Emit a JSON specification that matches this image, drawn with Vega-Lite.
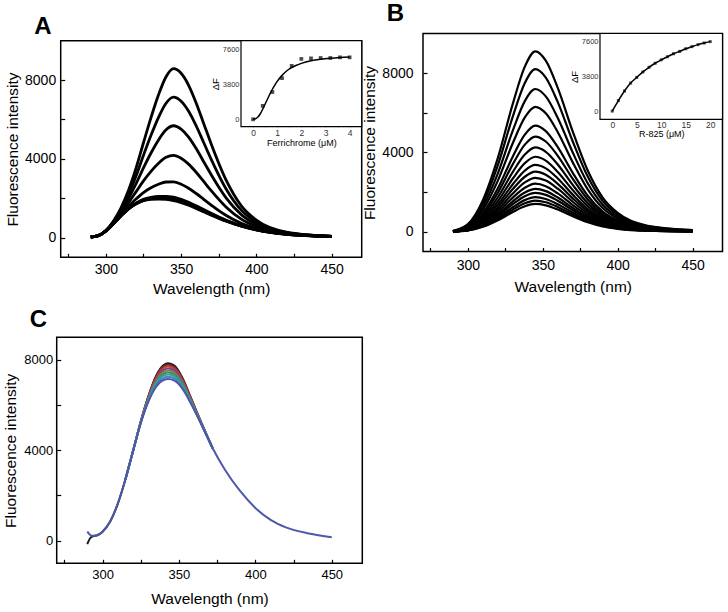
{
"$schema": "https://vega.github.io/schema/vega-lite/v6.json",
"width": 728, "height": 612, "padding": 0, "autosize": "none",
"config": {"view": {"stroke": null}, "font": "Liberation Sans",
 "axis": {"grid": false, "domain": false, "tickColor": "black", "tickWidth": 1.2, "labelColor": "black", "titleColor": "black", "titleFontWeight": "normal", "labelFont": "Liberation Sans", "titleFont": "Liberation Sans"}},
"datasets": {
"A": [
{"w":290,"k":1,"v":30},{"w":295,"k":1,"v":100},{"w":300,"k":1,"v":364},{"w":305,"k":1,"v":834},{"w":310,"k":1,"v":1502},{"w":315,"k":1,"v":2388},{"w":320,"k":1,"v":3509},{"w":325,"k":1,"v":4818},{"w":330,"k":1,"v":6094},{"w":335,"k":1,"v":7253},{"w":340,"k":1,"v":8171},{"w":345,"k":1,"v":8580},{"w":350,"k":1,"v":8346},{"w":355,"k":1,"v":7737},{"w":360,"k":1,"v":6840},{"w":365,"k":1,"v":5799},{"w":370,"k":1,"v":4758},{"w":380,"k":1,"v":2907},{"w":390,"k":1,"v":1619},{"w":400,"k":1,"v":893},{"w":420,"k":1,"v":284},{"w":450,"k":1,"v":68},
{"w":290,"k":2,"v":30},{"w":295,"k":2,"v":100},{"w":300,"k":2,"v":356},{"w":305,"k":2,"v":805},{"w":310,"k":2,"v":1415},{"w":315,"k":2,"v":2185},{"w":320,"k":2,"v":3118},{"w":325,"k":2,"v":4180},{"w":330,"k":2,"v":5195},{"w":335,"k":2,"v":6108},{"w":340,"k":2,"v":6823},{"w":345,"k":2,"v":7130},{"w":350,"k":2,"v":6925},{"w":355,"k":2,"v":6418},{"w":360,"k":2,"v":5680},{"w":365,"k":2,"v":4828},{"w":370,"k":2,"v":3975},{"w":380,"k":2,"v":2458},{"w":390,"k":2,"v":1394},{"w":400,"k":2,"v":784},{"w":420,"k":2,"v":259},{"w":450,"k":2,"v":66},
{"w":290,"k":3,"v":30},{"w":295,"k":3,"v":100},{"w":300,"k":3,"v":349},{"w":305,"k":3,"v":776},{"w":310,"k":3,"v":1328},{"w":315,"k":3,"v":1982},{"w":320,"k":3,"v":2726},{"w":325,"k":3,"v":3542},{"w":330,"k":3,"v":4296},{"w":335,"k":3,"v":4962},{"w":340,"k":3,"v":5474},{"w":345,"k":3,"v":5680},{"w":350,"k":3,"v":5504},{"w":355,"k":3,"v":5098},{"w":360,"k":3,"v":4520},{"w":365,"k":3,"v":3856},{"w":370,"k":3,"v":3192},{"w":380,"k":3,"v":2008},{"w":390,"k":3,"v":1169},{"w":400,"k":3,"v":675},{"w":420,"k":3,"v":235},{"w":450,"k":3,"v":63},
{"w":290,"k":4,"v":30},{"w":295,"k":4,"v":100},{"w":300,"k":4,"v":342},{"w":305,"k":4,"v":746},{"w":310,"k":4,"v":1238},{"w":315,"k":4,"v":1772},{"w":320,"k":4,"v":2321},{"w":325,"k":4,"v":2882},{"w":330,"k":4,"v":3366},{"w":335,"k":4,"v":3777},{"w":340,"k":4,"v":4079},{"w":345,"k":4,"v":4180},{"w":350,"k":4,"v":4034},{"w":355,"k":4,"v":3733},{"w":360,"k":4,"v":3320},{"w":365,"k":4,"v":2851},{"w":370,"k":4,"v":2382},{"w":380,"k":4,"v":1543},{"w":390,"k":4,"v":937},{"w":400,"k":4,"v":563},{"w":420,"k":4,"v":209},{"w":450,"k":4,"v":60},
{"w":290,"k":5,"v":30},{"w":295,"k":5,"v":100},{"w":300,"k":5,"v":335},{"w":305,"k":5,"v":719},{"w":310,"k":5,"v":1157},{"w":315,"k":5,"v":1583},{"w":320,"k":5,"v":1957},{"w":325,"k":5,"v":2288},{"w":330,"k":5,"v":2529},{"w":335,"k":5,"v":2711},{"w":340,"k":5,"v":2824},{"w":345,"k":5,"v":2830},{"w":350,"k":5,"v":2711},{"w":355,"k":5,"v":2505},{"w":360,"k":5,"v":2240},{"w":365,"k":5,"v":1947},{"w":370,"k":5,"v":1653},{"w":380,"k":5,"v":1125},{"w":390,"k":5,"v":727},{"w":400,"k":5,"v":461},{"w":420,"k":5,"v":186},{"w":450,"k":5,"v":57},
{"w":290,"k":6,"v":30},{"w":295,"k":6,"v":100},{"w":300,"k":6,"v":331},{"w":305,"k":6,"v":703},{"w":310,"k":6,"v":1110},{"w":315,"k":6,"v":1474},{"w":320,"k":6,"v":1746},{"w":325,"k":6,"v":1945},{"w":330,"k":6,"v":2045},{"w":335,"k":6,"v":2094},{"w":340,"k":6,"v":2098},{"w":345,"k":6,"v":2050},{"w":350,"k":6,"v":1947},{"w":355,"k":6,"v":1795},{"w":360,"k":6,"v":1616},{"w":365,"k":6,"v":1424},{"w":370,"k":6,"v":1232},{"w":380,"k":6,"v":883},{"w":390,"k":6,"v":606},{"w":400,"k":6,"v":403},{"w":420,"k":6,"v":173},{"w":450,"k":6,"v":55},
{"w":290,"k":7,"v":30},{"w":295,"k":7,"v":100},{"w":300,"k":7,"v":331},{"w":305,"k":7,"v":702},{"w":310,"k":7,"v":1107},{"w":315,"k":7,"v":1465},{"w":320,"k":7,"v":1730},{"w":325,"k":7,"v":1918},{"w":330,"k":7,"v":2008},{"w":335,"k":7,"v":2047},{"w":340,"k":7,"v":2042},{"w":345,"k":7,"v":1990},{"w":350,"k":7,"v":1888},{"w":355,"k":7,"v":1740},{"w":360,"k":7,"v":1568},{"w":365,"k":7,"v":1384},{"w":370,"k":7,"v":1199},{"w":380,"k":7,"v":864},{"w":390,"k":7,"v":597},{"w":400,"k":7,"v":398},{"w":420,"k":7,"v":172},{"w":450,"k":7,"v":55},
{"w":290,"k":8,"v":30},{"w":295,"k":8,"v":100},{"w":300,"k":8,"v":330},{"w":305,"k":8,"v":701},{"w":310,"k":8,"v":1103},{"w":315,"k":8,"v":1458},{"w":320,"k":8,"v":1715},{"w":325,"k":8,"v":1894},{"w":330,"k":8,"v":1974},{"w":335,"k":8,"v":2003},{"w":340,"k":8,"v":1991},{"w":345,"k":8,"v":1935},{"w":350,"k":8,"v":1834},{"w":355,"k":8,"v":1690},{"w":360,"k":8,"v":1524},{"w":365,"k":8,"v":1347},{"w":370,"k":8,"v":1170},{"w":380,"k":8,"v":847},{"w":390,"k":8,"v":589},{"w":400,"k":8,"v":394},{"w":420,"k":8,"v":171},{"w":450,"k":8,"v":55},
{"w":290,"k":9,"v":30},{"w":295,"k":9,"v":100},{"w":300,"k":9,"v":330},{"w":305,"k":9,"v":700},{"w":310,"k":9,"v":1100},{"w":315,"k":9,"v":1450},{"w":320,"k":9,"v":1700},{"w":325,"k":9,"v":1870},{"w":330,"k":9,"v":1940},{"w":335,"k":9,"v":1960},{"w":340,"k":9,"v":1940},{"w":345,"k":9,"v":1880},{"w":350,"k":9,"v":1780},{"w":355,"k":9,"v":1640},{"w":360,"k":9,"v":1480},{"w":365,"k":9,"v":1310},{"w":370,"k":9,"v":1140},{"w":380,"k":9,"v":830},{"w":390,"k":9,"v":580},{"w":400,"k":9,"v":390},{"w":420,"k":9,"v":170},{"w":450,"k":9,"v":55}
],
"Apts": [{"c":0,"f":0},{"c":0.4,"f":1450},{"c":0.8,"f":2950},{"c":1.2,"f":4450},{"c":1.6,"f":5780},{"c":2.0,"f":6530},{"c":2.4,"f":6590},{"c":2.8,"f":6630},{"c":3.2,"f":6630},{"c":3.6,"f":6700},{"c":4.0,"f":6700}],
"Afit": [{"c":0,"f":0},{"c":0.1,"f":60},{"c":0.2,"f":250},{"c":0.3,"f":600},{"c":0.4,"f":1100},{"c":0.5,"f":1650},{"c":0.6,"f":2200},{"c":0.7,"f":2750},{"c":0.8,"f":3250},{"c":0.9,"f":3700},{"c":1.0,"f":4100},{"c":1.2,"f":4750},{"c":1.4,"f":5250},{"c":1.6,"f":5600},{"c":1.8,"f":5850},{"c":2.0,"f":6050},{"c":2.4,"f":6330},{"c":2.8,"f":6500},{"c":3.2,"f":6610},{"c":3.6,"f":6690},{"c":4.0,"f":6750}],
"B": [
{"w":290,"k":1,"v":36},{"w":300,"k":1,"v":382},{"w":310,"k":1,"v":1593},{"w":320,"k":1,"v":3722},{"w":330,"k":1,"v":6461},{"w":338,"k":1,"v":8327},{"w":345,"k":1,"v":9100},{"w":352,"k":1,"v":8627},{"w":360,"k":1,"v":7253},{"w":370,"k":1,"v":5051},{"w":380,"k":1,"v":3085},{"w":390,"k":1,"v":1720},{"w":400,"k":1,"v":946},{"w":420,"k":1,"v":300},{"w":450,"k":1,"v":82},
{"w":290,"k":2,"v":33},{"w":300,"k":2,"v":344},{"w":310,"k":2,"v":1435},{"w":320,"k":2,"v":3354},{"w":330,"k":2,"v":5822},{"w":338,"k":2,"v":7503},{"w":345,"k":2,"v":8200},{"w":352,"k":2,"v":7774},{"w":360,"k":2,"v":6535},{"w":370,"k":2,"v":4551},{"w":380,"k":2,"v":2780},{"w":390,"k":2,"v":1550},{"w":400,"k":2,"v":853},{"w":420,"k":2,"v":271},{"w":450,"k":2,"v":74},
{"w":290,"k":3,"v":29},{"w":300,"k":3,"v":302},{"w":310,"k":3,"v":1260},{"w":320,"k":3,"v":2945},{"w":330,"k":3,"v":5112},{"w":338,"k":3,"v":6588},{"w":345,"k":3,"v":7200},{"w":352,"k":3,"v":6826},{"w":360,"k":3,"v":5738},{"w":370,"k":3,"v":3996},{"w":380,"k":3,"v":2441},{"w":390,"k":3,"v":1361},{"w":400,"k":3,"v":749},{"w":420,"k":3,"v":238},{"w":450,"k":3,"v":65},
{"w":290,"k":4,"v":25},{"w":300,"k":4,"v":265},{"w":310,"k":4,"v":1103},{"w":320,"k":4,"v":2577},{"w":330,"k":4,"v":4473},{"w":338,"k":4,"v":5765},{"w":345,"k":4,"v":6300},{"w":352,"k":4,"v":5972},{"w":360,"k":4,"v":5021},{"w":370,"k":4,"v":3497},{"w":380,"k":4,"v":2136},{"w":390,"k":4,"v":1191},{"w":400,"k":4,"v":655},{"w":420,"k":4,"v":208},{"w":450,"k":4,"v":57},
{"w":290,"k":5,"v":21},{"w":300,"k":5,"v":225},{"w":310,"k":5,"v":936},{"w":320,"k":5,"v":2188},{"w":330,"k":5,"v":3799},{"w":338,"k":5,"v":4895},{"w":345,"k":5,"v":5350},{"w":352,"k":5,"v":5072},{"w":360,"k":5,"v":4264},{"w":370,"k":5,"v":2969},{"w":380,"k":5,"v":1814},{"w":390,"k":5,"v":1011},{"w":400,"k":5,"v":556},{"w":420,"k":5,"v":177},{"w":450,"k":5,"v":48},
{"w":290,"k":6,"v":19},{"w":300,"k":6,"v":202},{"w":310,"k":6,"v":840},{"w":320,"k":6,"v":1963},{"w":330,"k":6,"v":3408},{"w":338,"k":6,"v":4392},{"w":345,"k":6,"v":4800},{"w":352,"k":6,"v":4550},{"w":360,"k":6,"v":3826},{"w":370,"k":6,"v":2664},{"w":380,"k":6,"v":1627},{"w":390,"k":6,"v":907},{"w":400,"k":6,"v":499},{"w":420,"k":6,"v":158},{"w":450,"k":6,"v":43},
{"w":290,"k":7,"v":17},{"w":300,"k":7,"v":179},{"w":310,"k":7,"v":744},{"w":320,"k":7,"v":1738},{"w":330,"k":7,"v":3018},{"w":338,"k":7,"v":3889},{"w":345,"k":7,"v":4250},{"w":352,"k":7,"v":4029},{"w":360,"k":7,"v":3387},{"w":370,"k":7,"v":2359},{"w":380,"k":7,"v":1441},{"w":390,"k":7,"v":803},{"w":400,"k":7,"v":442},{"w":420,"k":7,"v":140},{"w":450,"k":7,"v":38},
{"w":290,"k":8,"v":15},{"w":300,"k":8,"v":159},{"w":310,"k":8,"v":662},{"w":320,"k":8,"v":1546},{"w":330,"k":8,"v":2684},{"w":338,"k":8,"v":3459},{"w":345,"k":8,"v":3780},{"w":352,"k":8,"v":3583},{"w":360,"k":8,"v":3013},{"w":370,"k":8,"v":2098},{"w":380,"k":8,"v":1281},{"w":390,"k":8,"v":714},{"w":400,"k":8,"v":393},{"w":420,"k":8,"v":125},{"w":450,"k":8,"v":34},
{"w":290,"k":9,"v":13},{"w":300,"k":9,"v":142},{"w":310,"k":9,"v":590},{"w":320,"k":9,"v":1378},{"w":330,"k":9,"v":2393},{"w":338,"k":9,"v":3084},{"w":345,"k":9,"v":3370},{"w":352,"k":9,"v":3195},{"w":360,"k":9,"v":2686},{"w":370,"k":9,"v":1870},{"w":380,"k":9,"v":1142},{"w":390,"k":9,"v":637},{"w":400,"k":9,"v":350},{"w":420,"k":9,"v":111},{"w":450,"k":9,"v":30},
{"w":290,"k":10,"v":12},{"w":300,"k":10,"v":127},{"w":310,"k":10,"v":530},{"w":320,"k":10,"v":1239},{"w":330,"k":10,"v":2151},{"w":338,"k":10,"v":2772},{"w":345,"k":10,"v":3030},{"w":352,"k":10,"v":2872},{"w":360,"k":10,"v":2415},{"w":370,"k":10,"v":1682},{"w":380,"k":10,"v":1027},{"w":390,"k":10,"v":573},{"w":400,"k":10,"v":315},{"w":420,"k":10,"v":100},{"w":450,"k":10,"v":27},
{"w":290,"k":11,"v":11},{"w":300,"k":11,"v":114},{"w":310,"k":11,"v":476},{"w":320,"k":11,"v":1112},{"w":330,"k":11,"v":1931},{"w":338,"k":11,"v":2489},{"w":345,"k":11,"v":2720},{"w":352,"k":11,"v":2579},{"w":360,"k":11,"v":2168},{"w":370,"k":11,"v":1510},{"w":380,"k":11,"v":922},{"w":390,"k":11,"v":514},{"w":400,"k":11,"v":283},{"w":420,"k":11,"v":90},{"w":450,"k":11,"v":24},
{"w":290,"k":12,"v":10},{"w":300,"k":12,"v":102},{"w":310,"k":12,"v":424},{"w":320,"k":12,"v":990},{"w":330,"k":12,"v":1718},{"w":338,"k":12,"v":2214},{"w":345,"k":12,"v":2420},{"w":352,"k":12,"v":2294},{"w":360,"k":12,"v":1929},{"w":370,"k":12,"v":1343},{"w":380,"k":12,"v":820},{"w":390,"k":12,"v":457},{"w":400,"k":12,"v":252},{"w":420,"k":12,"v":80},{"w":450,"k":12,"v":22},
{"w":290,"k":13,"v":9},{"w":300,"k":13,"v":91},{"w":310,"k":13,"v":378},{"w":320,"k":13,"v":883},{"w":330,"k":13,"v":1534},{"w":338,"k":13,"v":1976},{"w":345,"k":13,"v":2160},{"w":352,"k":13,"v":2048},{"w":360,"k":13,"v":1722},{"w":370,"k":13,"v":1199},{"w":380,"k":13,"v":732},{"w":390,"k":13,"v":408},{"w":400,"k":13,"v":225},{"w":420,"k":13,"v":71},{"w":450,"k":13,"v":19},
{"w":290,"k":14,"v":8},{"w":300,"k":14,"v":82},{"w":310,"k":14,"v":343},{"w":320,"k":14,"v":802},{"w":330,"k":14,"v":1392},{"w":338,"k":14,"v":1793},{"w":345,"k":14,"v":1960},{"w":352,"k":14,"v":1858},{"w":360,"k":14,"v":1562},{"w":370,"k":14,"v":1088},{"w":380,"k":14,"v":664},{"w":390,"k":14,"v":370},{"w":400,"k":14,"v":204},{"w":420,"k":14,"v":65},{"w":450,"k":14,"v":18},
{"w":290,"k":15,"v":7},{"w":300,"k":15,"v":73},{"w":310,"k":15,"v":305},{"w":320,"k":15,"v":712},{"w":330,"k":15,"v":1235},{"w":338,"k":15,"v":1592},{"w":345,"k":15,"v":1740},{"w":352,"k":15,"v":1650},{"w":360,"k":15,"v":1387},{"w":370,"k":15,"v":966},{"w":380,"k":15,"v":590},{"w":390,"k":15,"v":329},{"w":400,"k":15,"v":181},{"w":420,"k":15,"v":57},{"w":450,"k":15,"v":16},
{"w":290,"k":16,"v":6},{"w":300,"k":16,"v":66},{"w":310,"k":16,"v":275},{"w":320,"k":16,"v":642},{"w":330,"k":16,"v":1115},{"w":338,"k":16,"v":1437},{"w":345,"k":16,"v":1570},{"w":352,"k":16,"v":1488},{"w":360,"k":16,"v":1251},{"w":370,"k":16,"v":871},{"w":380,"k":16,"v":532},{"w":390,"k":16,"v":297},{"w":400,"k":16,"v":163},{"w":420,"k":16,"v":52},{"w":450,"k":16,"v":14},
{"w":290,"k":17,"v":6},{"w":300,"k":17,"v":59},{"w":310,"k":17,"v":245},{"w":320,"k":17,"v":573},{"w":330,"k":17,"v":994},{"w":338,"k":17,"v":1281},{"w":345,"k":17,"v":1400},{"w":352,"k":17,"v":1327},{"w":360,"k":17,"v":1116},{"w":370,"k":17,"v":777},{"w":380,"k":17,"v":475},{"w":390,"k":17,"v":265},{"w":400,"k":17,"v":146},{"w":420,"k":17,"v":46},{"w":450,"k":17,"v":13}
],
"Bpts": [{"c":0,"f":0},{"c":1.25,"f":1150},{"c":2.5,"f":2200},{"c":3.75,"f":3070},{"c":5,"f":3690},{"c":6.25,"f":4290},{"c":7.5,"f":4800},{"c":8.75,"f":5240},{"c":10,"f":5620},{"c":11.25,"f":5950},{"c":12.5,"f":6280},{"c":13.75,"f":6540},{"c":15,"f":6830},{"c":16.25,"f":7060},{"c":17.5,"f":7280},{"c":18.75,"f":7460},{"c":20,"f":7610}],
"C": [
{"w":290,"k":"c1","v":-150},{"w":292,"k":"c1","v":120},{"w":294,"k":"c1","v":210},{"w":296,"k":"c1","v":230},{"w":300,"k":"c1","v":400},{"w":305,"k":"c1","v":850},{"w":310,"k":"c1","v":1640},{"w":315,"k":"c1","v":2720},{"w":320,"k":"c1","v":3980},{"w":325,"k":"c1","v":5270},{"w":330,"k":"c1","v":6395},{"w":335,"k":"c1","v":7290},{"w":340,"k":"c1","v":7775},{"w":343,"k":"c1","v":7850},{"w":347,"k":"c1","v":7745},{"w":352,"k":"c1","v":7240},{"w":358,"k":"c1","v":6295},{"w":365,"k":"c1","v":5170},{"w":372,"k":"c1","v":4100},
{"w":315,"k":"c2","v":2720},{"w":320,"k":"c2","v":3980},{"w":325,"k":"c2","v":5264},{"w":330,"k":"c2","v":6374},{"w":335,"k":"c2","v":7248},{"w":340,"k":"c2","v":7718},{"w":343,"k":"c2","v":7790},{"w":347,"k":"c2","v":7688},{"w":352,"k":"c2","v":7198},{"w":358,"k":"c2","v":6274},{"w":365,"k":"c2","v":5164},{"w":372,"k":"c2","v":4100},
{"w":315,"k":"c3","v":2720},{"w":320,"k":"c3","v":3980},{"w":325,"k":"c3","v":5256},{"w":330,"k":"c3","v":6346},{"w":335,"k":"c3","v":7192},{"w":340,"k":"c3","v":7642},{"w":343,"k":"c3","v":7710},{"w":347,"k":"c3","v":7612},{"w":352,"k":"c3","v":7142},{"w":358,"k":"c3","v":6246},{"w":365,"k":"c3","v":5156},{"w":372,"k":"c3","v":4100},
{"w":315,"k":"c4","v":2720},{"w":320,"k":"c4","v":3980},{"w":325,"k":"c4","v":5247},{"w":330,"k":"c4","v":6315},{"w":335,"k":"c4","v":7129},{"w":340,"k":"c4","v":7557},{"w":343,"k":"c4","v":7620},{"w":347,"k":"c4","v":7527},{"w":352,"k":"c4","v":7079},{"w":358,"k":"c4","v":6215},{"w":365,"k":"c4","v":5147},{"w":372,"k":"c4","v":4100},
{"w":315,"k":"c5","v":2720},{"w":320,"k":"c5","v":3980},{"w":325,"k":"c5","v":5238},{"w":330,"k":"c5","v":6283},{"w":335,"k":"c5","v":7066},{"w":340,"k":"c5","v":7471},{"w":343,"k":"c5","v":7530},{"w":347,"k":"c5","v":7441},{"w":352,"k":"c5","v":7016},{"w":358,"k":"c5","v":6183},{"w":365,"k":"c5","v":5138},{"w":372,"k":"c5","v":4100},
{"w":315,"k":"c6","v":2720},{"w":320,"k":"c6","v":3980},{"w":325,"k":"c6","v":5229},{"w":330,"k":"c6","v":6252},{"w":335,"k":"c6","v":7003},{"w":340,"k":"c6","v":7386},{"w":343,"k":"c6","v":7440},{"w":347,"k":"c6","v":7356},{"w":352,"k":"c6","v":6953},{"w":358,"k":"c6","v":6152},{"w":365,"k":"c6","v":5129},{"w":372,"k":"c6","v":4100},
{"w":315,"k":"c7","v":2720},{"w":320,"k":"c7","v":3980},{"w":325,"k":"c7","v":5220},{"w":330,"k":"c7","v":6220},{"w":335,"k":"c7","v":6940},{"w":340,"k":"c7","v":7300},{"w":343,"k":"c7","v":7350},{"w":347,"k":"c7","v":7270},{"w":352,"k":"c7","v":6890},{"w":358,"k":"c7","v":6120},{"w":365,"k":"c7","v":5120},{"w":372,"k":"c7","v":4100},
{"w":315,"k":"c8","v":2720},{"w":320,"k":"c8","v":3980},{"w":325,"k":"c8","v":5210},{"w":330,"k":"c8","v":6185},{"w":335,"k":"c8","v":6870},{"w":340,"k":"c8","v":7205},{"w":343,"k":"c8","v":7250},{"w":347,"k":"c8","v":7175},{"w":352,"k":"c8","v":6820},{"w":358,"k":"c8","v":6085},{"w":365,"k":"c8","v":5110},{"w":372,"k":"c8","v":4100}
],
"Cbase": [{"w":290,"v":400},{"w":293,"v":220},{"w":296,"v":230},{"w":300,"v":400},{"w":305,"v":850},{"w":310,"v":1640},{"w":315,"v":2720},{"w":320,"v":3980},{"w":325,"v":5200},{"w":330,"v":6150},{"w":335,"v":6800},{"w":340,"v":7110},{"w":343,"v":7150},{"w":347,"v":7080},{"w":352,"v":6750},{"w":358,"v":6050},{"w":365,"v":5100},{"w":372,"v":4100},{"w":380,"v":3150},{"w":390,"v":2200},{"w":400,"v":1450},{"w":410,"v":920},{"w":420,"v":590},{"w":435,"v":320},{"w":450,"v":150}],
"lblA": [{"t":"A"}], "lblB": [{"t":"B"}], "lblC": [{"t":"C"}], "one": [{"t":""}]
},
"layer": [
{"layer": [
 {"data": {"name": "A"}, "mark": {"type": "line", "interpolate": "monotone", "stroke": "black", "strokeWidth": 2.8},
  "encoding": {
   "x": {"field": "w", "type": "quantitative", "scale": {"domain": [270, 470], "range": [60.7, 361.7], "nice": false, "zero": false},
    "axis": {"orient": "bottom", "offset": -354.7, "values": [275,300,325,350,375,400,425,450], "format": "d", "labelExpr": "datum.value % 50 === 0 ? datum.label : ''", "tickSize": -4, "labelPadding": 9, "labelFontSize": 14, "title": "Wavelength (nm)", "titleFontSize": 15.5, "titlePadding": 5}},
   "y": {"field": "v", "type": "quantitative", "scale": {"domain": [-1000, 10000], "range": [257.3, 40.7], "nice": false, "zero": false},
    "axis": {"orient": "left", "offset": -60.7, "values": [0,2000,4000,6000,8000], "format": "d", "labelExpr": "datum.value % 4000 === 0 ? datum.label : ''", "tickSize": -4, "labelPadding": 9, "labelFontSize": 14, "title": "Fluorescence intensity", "titleFontSize": 15.5, "titlePadding": 4}},
   "detail": {"field": "k", "type": "nominal"}}},
 {"data": {"name": "one"}, "mark": {"type": "rect", "filled": false, "stroke": "black", "strokeWidth": 1.5},
  "encoding": {"x": {"datum": 270, "type": "quantitative"}, "x2": {"datum": 470}, "y": {"datum": -1000, "type": "quantitative"}, "y2": {"datum": 10000}}},
 {"data": {"name": "lblA"}, "mark": {"type": "text", "fontSize": 24, "fontWeight": "bold", "font": "Liberation Sans", "align": "center", "baseline": "alphabetic"},
  "encoding": {"x": {"datum": 258.2, "type": "quantitative"}, "y": {"datum": 10335, "type": "quantitative"}, "text": {"field": "t"}}}
]},
{"layer": [
 {"data": {"name": "one"}, "mark": {"type": "rect", "fill": "white", "stroke": "black", "strokeWidth": 1.2},
  "encoding": {"x": {"datum": -0.5, "type": "quantitative", "scale": {"domain": [-0.5, 4.5], "range": [241, 361.7], "nice": false, "zero": false},
    "axis": {"orient": "bottom", "offset": -485.3, "values": [0,0.5,1,1.5,2,2.5,3,3.5,4], "labelExpr": "datum.value % 1 === 0 ? format(datum.value, 'd') : ''", "tickSize": -2.5, "labelPadding": 4.5, "labelFontSize": 8.5, "labelColor": "#333", "title": "Ferrichrome (μM)", "titleFontSize": 9, "titlePadding": 1}},
   "x2": {"datum": 4.5},
   "y": {"datum": -800, "type": "quantitative", "scale": {"domain": [-800, 8500], "range": [126.7, 40.7], "nice": false, "zero": false},
    "axis": {"orient": "left", "offset": -241, "values": [0,1900,3800,5700,7600], "labelExpr": "datum.value % 3800 === 0 ? format(datum.value, 'd') : ''", "tickSize": -2.5, "labelPadding": 4.5, "labelFontSize": 7.5, "labelColor": "#333", "title": "ΔF", "titleFontSize": 9.5, "titlePadding": 2}},
   "y2": {"datum": 8500}}},
 {"data": {"name": "Afit"}, "mark": {"type": "line", "interpolate": "monotone", "stroke": "black", "strokeWidth": 1.5},
  "encoding": {"x": {"field": "c", "type": "quantitative"}, "y": {"field": "f", "type": "quantitative"}}},
 {"data": {"name": "Apts"}, "mark": {"type": "point", "shape": "square", "filled": true, "color": "black", "size": 14},
  "encoding": {"x": {"field": "c", "type": "quantitative"}, "y": {"field": "f", "type": "quantitative"}}}
]},
{"layer": [
 {"data": {"name": "B"}, "mark": {"type": "line", "interpolate": "monotone", "stroke": "black", "strokeWidth": 2.2},
  "encoding": {
   "x": {"field": "w", "type": "quantitative", "scale": {"domain": [270, 470], "range": [423, 722.5], "nice": false, "zero": false},
    "axis": {"orient": "bottom", "offset": -360.5, "values": [275,300,325,350,375,400,425,450], "format": "d", "labelExpr": "datum.value % 50 === 0 ? datum.label : ''", "tickSize": -4, "labelPadding": 11, "labelFontSize": 14, "title": "Wavelength (nm)", "titleFontSize": 15.5, "titlePadding": 7}},
   "y": {"field": "v", "type": "quantitative", "scale": {"domain": [-1000, 10000], "range": [251.5, 33.5], "nice": false, "zero": false},
    "axis": {"orient": "left", "offset": -423, "values": [0,2000,4000,6000,8000], "format": "d", "labelExpr": "datum.value % 4000 === 0 ? datum.label : ''", "tickSize": -4, "labelPadding": 14, "labelFontSize": 14, "title": "Fluorescence intensity", "titleFontSize": 15.5, "titlePadding": 4}},
   "detail": {"field": "k", "type": "nominal"}}},
 {"data": {"name": "one"}, "mark": {"type": "rect", "filled": false, "stroke": "black", "strokeWidth": 1.5},
  "encoding": {"x": {"datum": 270, "type": "quantitative"}, "x2": {"datum": 470}, "y": {"datum": -1000, "type": "quantitative"}, "y2": {"datum": 10000}}},
 {"data": {"name": "lblB"}, "mark": {"type": "text", "fontSize": 24, "fontWeight": "bold", "font": "Liberation Sans", "align": "center", "baseline": "alphabetic"},
  "encoding": {"x": {"datum": 251.6, "type": "quantitative"}, "y": {"datum": 10626, "type": "quantitative"}, "text": {"field": "t"}}}
]},
{"layer": [
 {"data": {"name": "one"}, "mark": {"type": "rect", "fill": "white", "stroke": "black", "strokeWidth": 1.2},
  "encoding": {"x": {"datum": -2.5, "type": "quantitative", "scale": {"domain": [-2.5, 22.5], "range": [600, 722.5], "nice": false, "zero": false},
    "axis": {"orient": "bottom", "offset": -492.7, "values": [0,2.5,5,7.5,10,12.5,15,17.5,20], "labelExpr": "datum.value % 5 === 0 ? format(datum.value, 'd') : ''", "tickSize": -2.5, "labelPadding": 4, "labelFontSize": 8.5, "labelColor": "#333", "title": "R-825 (μM)", "titleFontSize": 9, "titlePadding": 0}},
   "x2": {"datum": 22.5},
   "y": {"datum": -900, "type": "quantitative", "scale": {"domain": [-900, 8500], "range": [119.3, 33.5], "nice": false, "zero": false},
    "axis": {"orient": "left", "offset": -600, "values": [0,1900,3800,5700,7600], "labelExpr": "datum.value % 3800 === 0 ? format(datum.value, 'd') : ''", "tickSize": -2.5, "labelPadding": 4.5, "labelFontSize": 7.5, "labelColor": "#333", "title": "ΔF", "titleFontSize": 9.5, "titlePadding": 2}},
   "y2": {"datum": 8500}}},
 {"data": {"name": "Bpts"}, "mark": {"type": "line", "interpolate": "monotone", "stroke": "black", "strokeWidth": 1.5},
  "encoding": {"x": {"field": "c", "type": "quantitative"}, "y": {"field": "f", "type": "quantitative"}}},
 {"data": {"name": "Bpts"}, "mark": {"type": "point", "shape": "square", "filled": true, "color": "black", "size": 9},
  "encoding": {"x": {"field": "c", "type": "quantitative"}, "y": {"field": "f", "type": "quantitative"}}}
]},
{"layer": [
 {"data": {"name": "C"}, "mark": {"type": "line", "interpolate": "monotone", "strokeWidth": 2},
  "encoding": {
   "x": {"field": "w", "type": "quantitative", "scale": {"domain": [270, 470], "range": [56.7, 362.3], "nice": false, "zero": false},
    "axis": {"orient": "bottom", "offset": -48.7, "values": [275,300,325,350,375,400,425,450], "format": "d", "labelExpr": "datum.value % 50 === 0 ? datum.label : ''", "tickSize": -4, "labelPadding": 9, "labelFontSize": 13, "title": "Wavelength (nm)", "titleFontSize": 15.5, "titlePadding": 10}},
   "y": {"field": "v", "type": "quantitative", "scale": {"domain": [-1000, 9000], "range": [563.3, 337.3], "nice": false, "zero": false},
    "axis": {"orient": "left", "offset": -56.7, "values": [0,2000,4000,6000,8000], "format": "d", "labelExpr": "datum.value % 4000 === 0 ? datum.label : ''", "tickSize": -4, "labelPadding": 8, "labelFontSize": 13, "title": "Fluorescence intensity", "titleFontSize": 15.5, "titlePadding": 5}},
   "color": {"field": "k", "type": "nominal", "legend": null, "scale": {"domain": ["c1","c2","c3","c4","c5","c6","c7","c8"], "range": ["#1a1a1a","#8b1e2b","#b5443a","#7d3c98","#8a7f3a","#3f8f5a","#2ea3a3","#4a7fc0"]}}}},
 {"data": {"name": "Cbase"}, "mark": {"type": "line", "interpolate": "monotone", "stroke": "#4d58a6", "strokeWidth": 2},
  "encoding": {"x": {"field": "w", "type": "quantitative"}, "y": {"field": "v", "type": "quantitative"}}},
 {"data": {"name": "one"}, "mark": {"type": "rect", "filled": false, "stroke": "black", "strokeWidth": 1.5},
  "encoding": {"x": {"datum": 270, "type": "quantitative"}, "x2": {"datum": 470}, "y": {"datum": -1000, "type": "quantitative"}, "y2": {"datum": 9000}}},
 {"data": {"name": "lblC"}, "mark": {"type": "text", "fontSize": 24, "fontWeight": "bold", "font": "Liberation Sans", "align": "center", "baseline": "alphabetic"},
  "encoding": {"x": {"datum": 258.1, "type": "quantitative"}, "y": {"datum": 9451, "type": "quantitative"}, "text": {"field": "t"}}}
]}
],
"resolve": {"scale": {"x": "independent", "y": "independent"}, "axis": {"x": "independent", "y": "independent"}}
}
